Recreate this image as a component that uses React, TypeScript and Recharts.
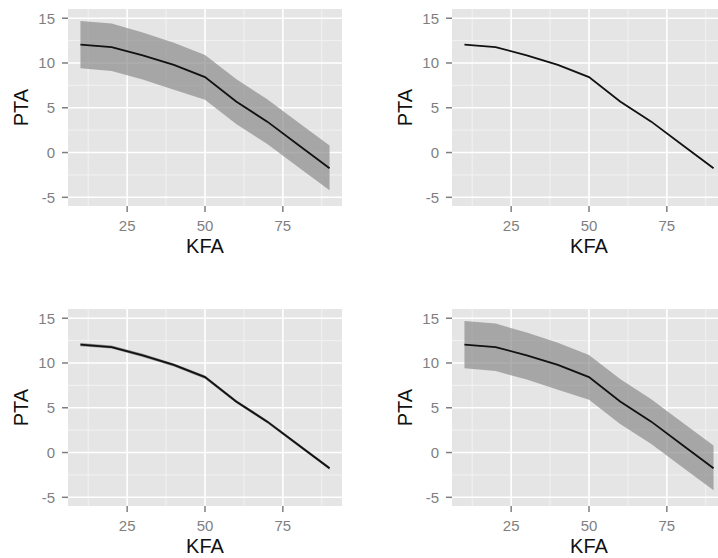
import React from 'react';
import { ComposedChart, Area, Line, XAxis, YAxis, CartesianGrid } from 'recharts';

const kfa = [10, 20, 30, 40, 50, 60, 70, 80, 90];
const ptaFit = [12.05, 11.78, 10.85, 9.78, 8.42, 5.7, 3.45, 0.85, -1.75];
const ptaUpper = [14.7, 14.4, 13.4, 12.25, 10.9, 8.2, 5.95, 3.35, 0.8];
const ptaLower = [9.4, 9.1, 8.15, 7.0, 5.9, 3.2, 0.95, -1.65, -4.2];
const ptaUpperNarrow = [12.22, 11.95, 11.02, 9.95, 8.59, 5.87, 3.62, 1.02, -1.58];
const ptaLowerNarrow = [11.88, 11.61, 10.68, 9.61, 8.25, 5.53, 3.28, 0.68, -1.92];

const xTicks = [25, 50, 75];
const yTicks = [-5, 0, 5, 10, 15];
const xMinor = [12.5, 37.5, 62.5, 87.5];
const yMinor = [-2.5, 2.5, 7.5, 12.5];

const FONT = '"Liberation Sans", Arial, sans-serif';

type Band = 'wide' | 'narrow' | 'none';

function buildRows(band: Band) {
  return kfa.map((k, i) => ({
    kfa: k,
    fit: ptaFit[i],
    band:
      band === 'wide'
        ? [ptaLower[i], ptaUpper[i]]
        : band === 'narrow'
        ? [ptaLowerNarrow[i], ptaUpperNarrow[i]]
        : null,
  }));
}

function Panel({ left, top, band }: { left: number; top: number; band: Band }) {
  const rows = buildRows(band);
  return (
    <div style={{ position: 'absolute', left, top }}>
      <ComposedChart width={350} height={280} data={rows} margin={{ top: 9, right: 8, bottom: 0, left: 0 }}>
        <CartesianGrid
          fill="#e5e5e5"
          stroke="#f2f2f2"
          strokeWidth={1}
          horizontalValues={yMinor}
          verticalValues={xMinor}
        />
        <CartesianGrid stroke="#ffffff" strokeWidth={1.6} horizontalValues={yTicks} verticalValues={xTicks} />
        <XAxis
          dataKey="kfa"
          type="number"
          domain={[6, 94]}
          ticks={xTicks}
          interval={0}
          allowDataOverflow
          height={74}
          axisLine={false}
          tickSize={6}
          tickMargin={8}
          tickLine={{ stroke: '#7f7f7f', strokeWidth: 1.5 }}
          tick={{ fill: '#7f7f7f', fontSize: 15, fontFamily: FONT }}
          label={{ value: 'KFA', position: 'insideBottom', offset: 27, fill: '#111', fontSize: 20, fontFamily: FONT }}
        />
        <YAxis
          type="number"
          domain={[-5.97, 16.03]}
          ticks={yTicks}
          interval={0}
          allowDataOverflow
          width={68}
          axisLine={false}
          tickSize={6}
          tickMargin={7}
          tickLine={{ stroke: '#7f7f7f', strokeWidth: 1.5 }}
          tick={{ fill: '#7f7f7f', fontSize: 15, fontFamily: FONT }}
          label={{
            value: 'PTA',
            angle: -90,
            position: 'insideLeft',
            offset: 21,
            fill: '#111',
            fontSize: 20,
            fontFamily: FONT,
            style: { textAnchor: 'middle' },
          }}
        />
        {band !== 'none' && (
          <Area
            dataKey="band"
            type="linear"
            stroke="none"
            fill={band === 'wide' ? '#8c8c8c' : '#555555'}
            fillOpacity={band === 'wide' ? 0.7 : 0.6}
            isAnimationActive={false}
            dot={false}
            activeDot={false}
          />
        )}
        <Line
          dataKey="fit"
          type="linear"
          stroke="#111111"
          strokeWidth={1.8}
          dot={false}
          activeDot={false}
          isAnimationActive={false}
        />
      </ComposedChart>
    </div>
  );
}

export default function App() {
  return (
    <div
      style={{
        position: 'fixed',
        left: 0,
        top: 0,
        width: 718,
        height: 558,
        overflow: 'hidden',
        background: '#ffffff',
      }}
    >
      <Panel left={0} top={0} band="wide" />
      <Panel left={384} top={0} band="none" />
      <Panel left={0} top={300} band="narrow" />
      <Panel left={384} top={300} band="wide" />
    </div>
  );
}
